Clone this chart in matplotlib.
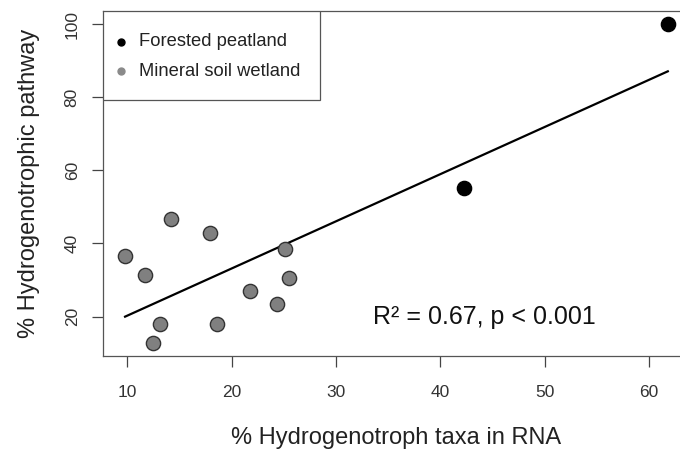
import numpy as np
import matplotlib.pyplot as plt
from matplotlib.patches import Rectangle

plt.rcParams['font.family'] = ['Liberation Sans', 'DejaVu Sans']

# forested peatland sites
forest_x = [61.8, 42.3]
forest_y = [100.1, 55.1]

# mineral soil wetland sites
mineral_x = [14.2, 17.9, 9.8, 11.7, 25.1, 25.5, 21.75, 24.4, 13.1, 18.6, 12.5]
mineral_y = [46.6, 42.8, 36.6, 31.4, 38.4, 30.5, 27.0, 23.5, 18.0, 18.0, 12.7]

x_ticks = [10, 20, 30, 40, 50, 60]
y_ticks = [20, 40, 60, 80, 100]

legend_labels = ['Forested peatland', 'Mineral soil wetland']
legend_colors = ['black', '#8a8a8a']


def main():
    fig = plt.figure(figsize=(6.8, 4.51), dpi=100)
    ax = fig.add_axes([0.152, 0.2106, 0.862, 0.765])

    all_x = np.array(forest_x + mineral_x)
    all_y = np.array(forest_y + mineral_y)
    slope, icpt = np.polyfit(all_x, all_y, 1)
    lx = np.array([all_x.min(), all_x.max()])
    ax.plot(lx, slope * lx + icpt, color='black', lw=1.6, zorder=2)

    ax.scatter(mineral_x, mineral_y, s=105, c='#808080', edgecolors='#333333',
               linewidths=1.0, zorder=3)
    ax.scatter(forest_x, forest_y, s=105, c='black', edgecolors='black',
               linewidths=1.0, zorder=3)

    # R style axis range (4% padding)
    xr = all_x.max() - all_x.min()
    yr = all_y.max() - all_y.min()
    ax.set_xlim(all_x.min() - 0.04 * xr, all_x.max() + 0.04 * xr)
    ax.set_ylim(all_y.min() - 0.04 * yr, all_y.max() + 0.04 * yr)

    ax.set_xticks(x_ticks)
    ax.set_yticks(y_ticks)
    ax.tick_params(axis='both', length=8, width=0.9, colors='#444444',
                   labelcolor='#333333', labelsize=12.5)
    ax.tick_params(axis='x', pad=13)
    ax.tick_params(axis='y', pad=9)
    for lab in ax.get_yticklabels():
        lab.set_rotation(90)
        lab.set_va('center')
    for sp in ax.spines.values():
        sp.set_color('#555555')
        sp.set_linewidth(0.9)

    ax.set_xlabel('% Hydrogenotroph taxa in RNA', fontsize=17,
                  color='#222222', labelpad=19)
    ax.set_ylabel('% Hydrogenotrophic pathway', fontsize=17,
                  color='#222222', labelpad=18)

    ax.text(33.6, 20, 'R² = 0.67, p < 0.001', fontsize=18, color='#111111',
            ha='left', va='center')

    # legend box drawn R style (base graphics legend)
    ax.add_patch(Rectangle((0, 0.742), 0.369, 0.258, transform=ax.transAxes,
                           facecolor='white', edgecolor='#555555', lw=0.9,
                           zorder=4))
    rows = [0.911, 0.826]
    for lab, col, yy in zip(legend_labels, legend_colors, rows):
        ax.plot([0.0299], [yy], 'o', ms=5, color=col, transform=ax.transAxes,
                zorder=5, clip_on=False)
        ax.text(0.0606, yy, lab, fontsize=13.2, color='#222222',
                transform=ax.transAxes, ha='left', va='center', zorder=5)

    fig.savefig('out.png', dpi=100)


if __name__ == '__main__':
    main()
